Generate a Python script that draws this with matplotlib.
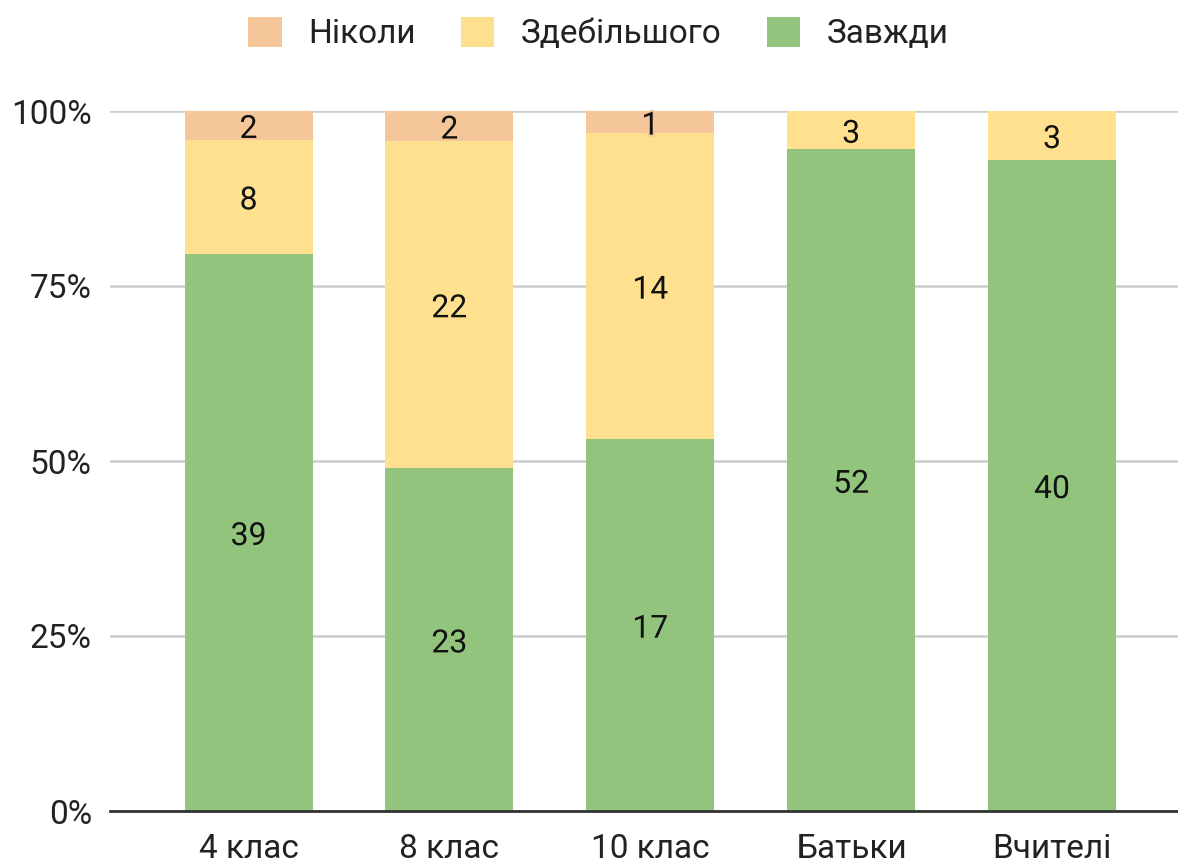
import numpy as np
import matplotlib.pyplot as plt
import matplotlib.patheffects as pe
from matplotlib.patches import Patch

plt.rcParams['font.family'] = ['Roboto', 'DejaVu Sans']

categories = ['4 клас', '8 клас', '10 клас', 'Батьки', 'Вчителі']
always = [39, 23, 17, 52, 40]
mostly = [8, 22, 14, 3, 3]
never = [2, 2, 1, 0, 0]

series = [('Завжди', always, '#93c47d'),
          ('Здебільшого', mostly, '#ffe08f'),
          ('Ніколи', never, '#f4c69a')]

totals = np.array(always) + np.array(mostly) + np.array(never)
x = np.arange(len(categories))

fig = plt.figure(figsize=(11.78, 8.64), dpi=100)
ax = fig.add_axes([110 / 1178, 53 / 864, 1068 / 1178, 700 / 864])

bottom = np.zeros(len(categories))
for name, vals, color in series:
    frac = np.array(vals) / totals
    ax.bar(x, frac, 0.637, bottom=bottom, color=color, zorder=2)
    for xi, v, f, b in zip(x, vals, frac, bottom):
        if v > 0:
            ax.annotate(str(v), (xi, b + f / 2), xytext=(0, -3),
                        textcoords='offset points', ha='center', va='center',
                        fontsize=23, color='#111111', zorder=3,
                        path_effects=[pe.withStroke(linewidth=3, foreground=color)])
    bottom += frac

ax.set_xlim(-0.69, 4.627)
ax.set_ylim(0, 1)
ax.set_yticks([0, 0.25, 0.5, 0.75, 1.0])
ax.set_yticklabels(['0%', '25%', '50%', '75%', '100%'])
ax.set_xticks(x)
ax.set_xticklabels(categories)
ax.tick_params(length=0, labelsize=24, colors='#222222')
ax.tick_params(axis='x', pad=16)
ax.tick_params(axis='y', pad=13)
ax.grid(axis='y', color='#cccccc', linewidth=1.8, zorder=0)
for s in ['top', 'right', 'left']:
    ax.spines[s].set_visible(False)
ax.spines['bottom'].set_color('#333333')
ax.spines['bottom'].set_linewidth(2)
ax.spines['bottom'].set_zorder(4)

handles = [Patch(facecolor=c, label=n) for n, _, c in series[::-1]]
fig.legend(handles=handles, loc='center', bbox_to_anchor=(0.508, 0.961), ncol=3,
           frameon=False, fontsize=24, handlelength=1.0, handleheight=1.0,
           handletextpad=0.8, columnspacing=1.35, labelcolor='#222222')

fig.savefig('out.png', dpi=100)
